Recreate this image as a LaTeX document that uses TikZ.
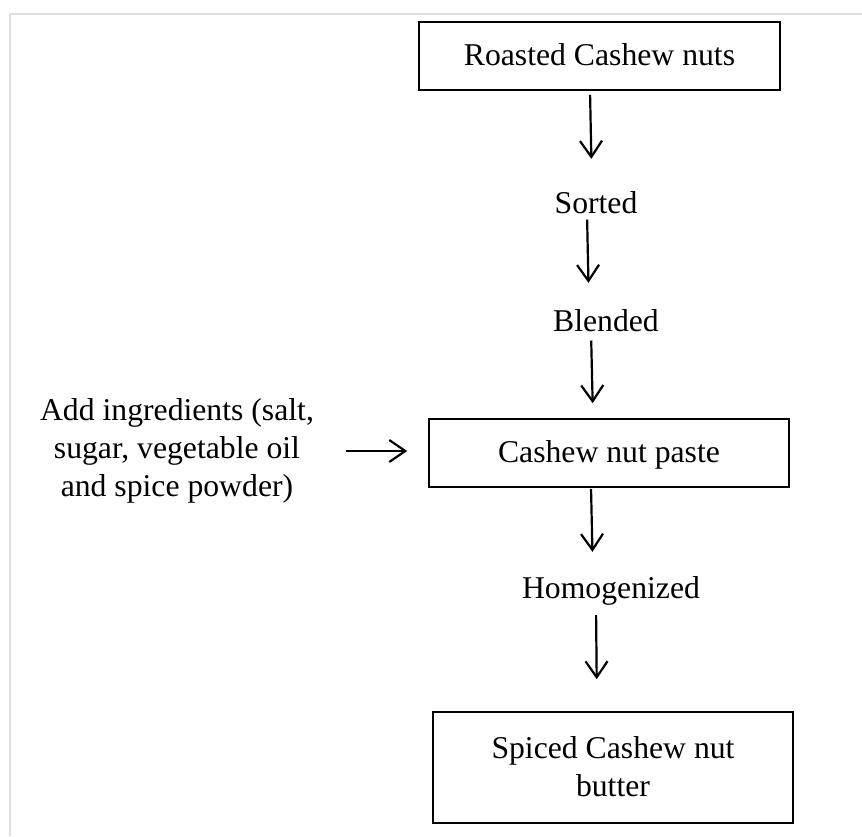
\documentclass[tikz,border=0pt]{standalone}
\usepackage{fontspec}
\setmainfont{Liberation Serif}
\usetikzlibrary{arrows.meta}

\begin{document}
\begin{tikzpicture}[x=1pt,y=-1pt,
    every node/.style={font=\fontsize{31.7}{38}\selectfont},
    stage/.style={draw, line width=1.6pt, minimum width=360pt, minimum height=68pt, text depth=0.25em, inner sep=0pt},
    steptext/.style={inner sep=0pt, anchor=base},
    flow/.style={line width=2.2pt, -{Straight Barb[length=16pt,width=22pt]}}]
    \useasboundingbox (0,0) rectangle (862,836);
    \draw[gray!25, line width=1.5pt] (862,14) -- (10,14) -- (10,836);

    \node[stage, minimum width=361pt] (roast) at (599.5,56) {Roasted Cashew nuts};
    \node[steptext] (sorted) at (596,213) {Sorted};
    \node[steptext] (blended) at (606,331) {Blended};
    \node[stage] (paste) at (609,453) {Cashew nut paste};
    \node[steptext] (homog) at (611,598) {Homogenized};
    \node[stage, minimum height=111pt, align=center] (butter) at (613,767.5) {Spiced Cashew nut\\ butter};
    \node[align=center, inner sep=0pt] (add) at (177,451) {Add ingredients (salt,\\ sugar, vegetable oil\\ and spice powder)};

    \draw[flow, shorten <=4pt, shorten >=32pt] ([xshift=-9.5pt]roast.south) -- ([xshift=-4pt]sorted.north);
    \draw[flow, shorten <=6pt, shorten >=26pt] ([xshift=-9pt]sorted.south) -- ([xshift=-17pt]blended.north);
    \draw[flow, shorten <=9pt, shorten >=15pt] ([xshift=-15pt]blended.south) -- ([xshift=-16pt]paste.north);
    \draw[flow, shorten <=1pt, shorten >=24pt] ([xshift=-18pt]paste.south) -- ([xshift=-18pt]homog.north);
    \draw[flow, shorten <=10pt, shorten >=32pt] ([xshift=-15pt]homog.south) -- ([xshift=-16pt]butter.north);
    \draw[flow, shorten <=31.5pt, shorten >=21pt] (add.east) -- (add.east -| paste.west);
\end{tikzpicture}
\end{document}
